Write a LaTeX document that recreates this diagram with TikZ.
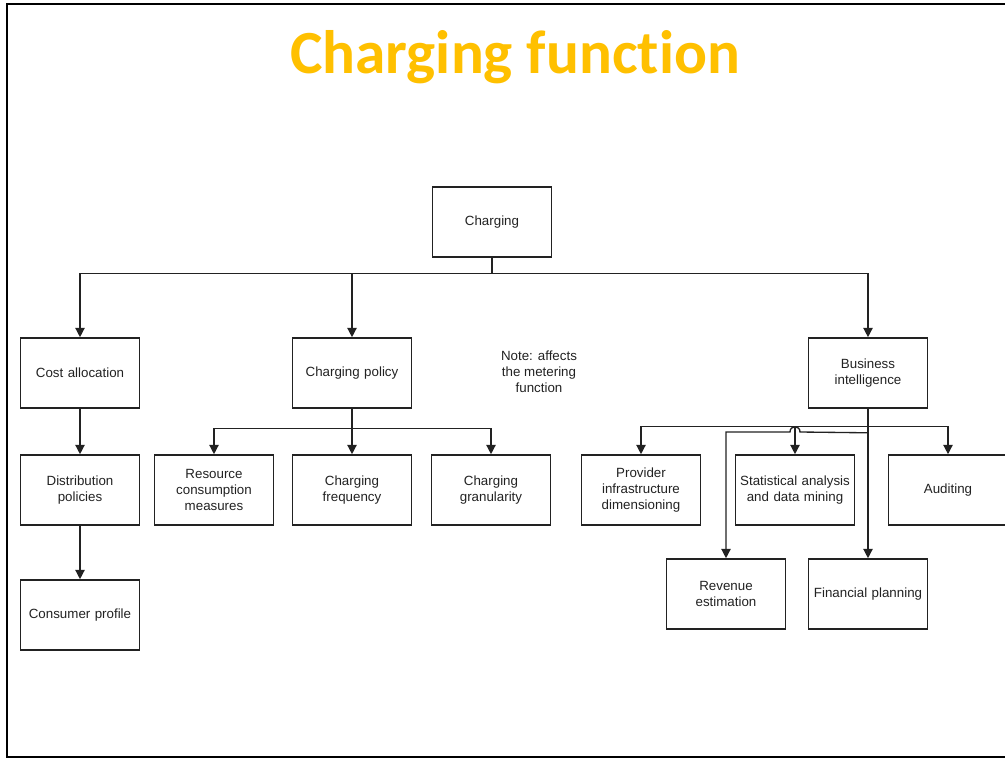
\documentclass[tikz,border=0pt]{standalone}
\usepackage{fontspec}
\setmainfont{Liberation Sans}
\newfontfamily\titlefont[Ligatures=NoCommon]{Carlito}
\usetikzlibrary{arrows.meta,calc}
\definecolor{titlegold}{HTML}{FFC000}
\definecolor{ink}{HTML}{222222}
\tikzset{
  box/.style={draw=ink, line width=1.2pt, minimum width=89.25pt, minimum height=52.5pt,
    inner sep=1pt, align=center, text width=86pt, font=\fontsize{10}{12}\selectfont, text=ink},
  arr/.style={draw=ink, line width=1pt, -{Triangle[width=7pt,length=7pt]}},
  ln/.style={draw=ink, line width=1pt}
}
\begin{document}
\begin{tikzpicture}[x=0.75pt,y=-0.75pt]
\clip (0,0) rectangle (1005,759);
\fill[white] (0,0) rectangle (1005,759);
\draw[line width=1.5pt] (1020,757) -- (7,757) -- (7,4) -- (1020,4);
\node[anchor=base, text=titlegold, font=\titlefont\bfseries\fontsize{46}{50}\selectfont] (title) at (515,74) {Charging function};

\node[box] (charging) at (492,222) {Charging};
\node[box] (cost) at (80,373) {Cost allocation};
\node[box] (policy) at (352,373) {Charging policy};
\node[box] (bi) at (868,373) {Business\\intelligence};
\node[align=center, font=\fontsize{10}{12}\selectfont, text=ink] (note) at (539,372) {Note: affects\\the metering\\function};

\node[box] (dist) at (80,490) {Distribution\\policies};
\node[box] (consumer) at (80,615) {Consumer profile};
\node[box] (res) at (214,490) {Resource\\consumption\\measures};
\node[box] (freq) at (352,490) {Charging\\frequency};
\node[box] (gran) at (491,490) {Charging\\granularity};
\node[box] (prov) at (641,490) {Provider\\infrastructure\\dimensioning};
\node[box] (stat) at (795,490) {Statistical analysis\\and data mining};
\node[box] (aud) at (948,490) {Auditing};
\node[box] (rev) at (726,594) {Revenue\\estimation};
\node[box] (fin) at (868,594) {Financial planning};

% top level
\draw[arr] (charging.south) -- ++(0,16) -| (cost.north);
\draw[arr] (charging.south) -- ++(0,16) -| (policy.north);
\draw[arr] (charging.south) -- ++(0,16) -| (bi.north);

% cost allocation chain
\draw[arr] (cost.south) -- (dist.north);
\draw[arr] (dist.south) -- (consumer.north);

% charging policy
\draw[arr] (policy.south) -- ++(0,20) -| (res.north);
\draw[arr] (policy.south) -- (freq.north);
\draw[arr] (policy.south) -- ++(0,20) -| (gran.north);

% business intelligence
\draw[arr] (bi.south) -- ++(0,18) -| (prov.north);
\draw[arr] (bi.south) -- ++(0,18) -| (stat.north);
\draw[arr] (bi.south) -- ++(0,18) -| (aud.north);
\draw[arr] (bi.south) -- (fin.north);
\coordinate (hopR) at (800,432);
\coordinate (hopL) at (790,432);
\draw[arr] (bi.south) -- ++(0,24) -- (hopR) .. controls (800,425) and (790,425) .. (hopL) -| (rev.north);
\end{tikzpicture}
\end{document}
